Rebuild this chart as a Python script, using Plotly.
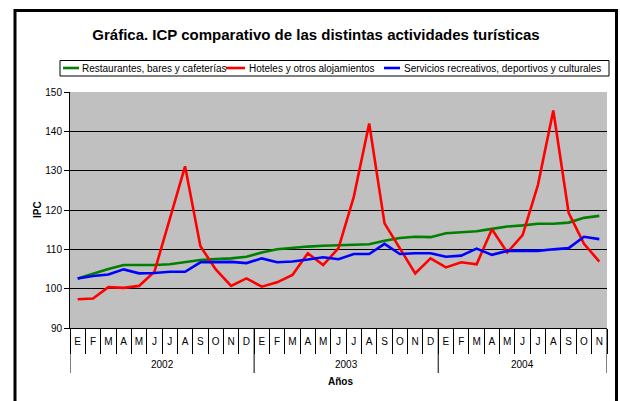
import plotly.graph_objects as go

months = ["E","F","M","A","M","J","J","A","S","O","N","D",
          "E","F","M","A","M","J","J","A","S","O","N","D",
          "E","F","M","A","M","J","J","A","S","O","N"]
years = ["2002", "2003", "2004"]
year_counts = [12, 12, 11]

restaurantes = [102.6, 103.9, 105.0, 106.0, 106.0, 106.0, 106.2, 106.7, 107.3, 107.5, 107.7, 108.1,
                109.2, 110.0, 110.4, 110.7, 110.9, 111.0, 111.1, 111.3, 112.2, 112.9, 113.2, 113.1,
                114.1, 114.4, 114.6, 115.2, 115.8, 116.1, 116.5, 116.5, 116.8, 118.0, 118.5]
hoteles = [97.3, 97.5, 100.4, 100.2, 100.7, 104.3, 117.7, 131.1, 110.8, 104.9, 100.7, 102.6,
           100.5, 101.6, 103.5, 109.0, 106.0, 110.3, 123.4, 142.0, 116.6, 110.3, 103.9, 107.7,
           105.4, 106.7, 106.2, 115.1, 109.2, 113.6, 126.4, 145.3, 119.3, 111.4, 106.9]
servicios = [102.6, 103.2, 103.6, 104.9, 103.9, 104.0, 104.3, 104.3, 106.7, 106.8, 106.8, 106.5,
             107.7, 106.7, 106.9, 107.4, 108.0, 107.5, 108.8, 108.8, 111.4, 108.8, 109.0, 109.0,
             108.1, 108.4, 110.2, 108.6, 109.6, 109.6, 109.6, 110.0, 110.3, 113.2, 112.6]

series_names = ["Restaurantes, bares y cafeterías", "Hoteles y otros alojamientos",
                "Servicios recreativos, deportivos y culturales"]
series_values = [restaurantes, hoteles, servicios]
series_colors = ["#008000", "#FF0000", "#0000FF"]

FONT = "Arial, Liberation Sans, sans-serif"
W, H = 620, 401
L, R, T, B = 70, 607, 92, 328
PW, PH = R - L, B - T

def px(X):
    return (X - L) / PW

def py(Y):
    return (B - Y) / PH

x = list(range(len(months)))

fig = go.Figure()
for name, vals, col in zip(series_names, series_values, series_colors):
    fig.add_trace(go.Scatter(x=x, y=vals, mode="lines", name=name,
                             line=dict(color=col, width=2.6), showlegend=False))

shapes = []
annotations = []

# outer frame
shapes.append(dict(type="rect", xref="paper", yref="paper",
                   x0=px(15), x1=px(616.5), y0=py(420), y1=py(10.5),
                   line=dict(color="black", width=3), fillcolor="rgba(0,0,0,0)", layer="above"))

# year dividers and labels
bounds = [-0.5]
for c in year_counts:
    bounds.append(bounds[-1] + c)
for b in bounds:
    shapes.append(dict(type="line", xref="x", yref="paper", x0=b, x1=b,
                       y0=0, y1=py(373), line=dict(color="black", width=1)))
for i, yr in enumerate(years):
    annotations.append(dict(x=(bounds[i] + bounds[i + 1]) / 2, y=py(364), xref="x", yref="paper",
                            text=yr, showarrow=False, font=dict(size=10, family=FONT, color="black"),
                            xanchor="center", yanchor="middle"))

annotations.append(dict(x=px(340), y=py(381), xref="paper", yref="paper", text="<b>Años</b>",
                        showarrow=False, font=dict(size=10, family=FONT, color="black"),
                        xanchor="center", yanchor="middle"))
annotations.append(dict(x=px(37), y=py(210), xref="paper", yref="paper", text="<b>IPC</b>",
                        showarrow=False, textangle=-90, font=dict(size=10, family=FONT, color="black"),
                        xanchor="center", yanchor="middle"))

# manual legend
shapes.append(dict(type="rect", xref="paper", yref="paper", x0=px(60), x1=px(609),
                   y0=py(76), y1=py(60.5), line=dict(color="black", width=1),
                   fillcolor="white", layer="above"))
leg_lines = [(63, 79), (226, 245), (384, 400)]
leg_text = [80, 247, 402]
for (a, b), tx, name, col in zip(leg_lines, leg_text, series_names, series_colors):
    shapes.append(dict(type="line", xref="paper", yref="paper", x0=px(a), x1=px(b),
                       y0=py(68), y1=py(68), line=dict(color=col, width=2.6), layer="above"))
    annotations.append(dict(x=px(tx), y=py(68), xref="paper", yref="paper", text=name,
                            showarrow=False, font=dict(size=10, family=FONT, color="black"),
                            xanchor="left", yanchor="middle"))

fig.update_layout(
    width=W, height=H,
    margin=dict(l=L, r=W - R, t=T, b=H - B),
    paper_bgcolor="white", plot_bgcolor="#C0C0C0",
    title=dict(text="<b>Gráfica. ICP comparativo de las distintas actividades turísticas</b>",
               x=316 / W, xanchor="center", y=1 - 35 / H, yanchor="middle",
               font=dict(size=15, family=FONT, color="black")),
    font=dict(family=FONT, color="black"),
    shapes=shapes, annotations=annotations,
    showlegend=False,
)
fig.update_xaxes(range=[-0.5, len(months) - 0.5], tickmode="array", tickvals=x, ticktext=months,
                 ticks="", showgrid=False, zeroline=False, showline=True, linecolor="black",
                 linewidth=1, tickfont=dict(size=10, family=FONT, color="black"),
                 ticklabelstandoff=4,
                 minor=dict(tickmode="array", tickvals=[i - 0.5 for i in range(len(months) + 1)],
                            ticks="outside", ticklen=25, tickcolor="black", tickwidth=1, showgrid=False))
fig.update_yaxes(range=[90, 150], dtick=10, ticks="outside", ticklen=5, tickcolor="black",
                 showgrid=True, gridcolor="black", gridwidth=1, zeroline=False,
                 showline=True, linecolor="black", linewidth=1,
                 tickfont=dict(size=10, family=FONT, color="black"))

fig.write_html("out.html", config={"displayModeBar": False},
               post_script="document.body.style.margin='0';document.body.style.overflow='hidden';")
